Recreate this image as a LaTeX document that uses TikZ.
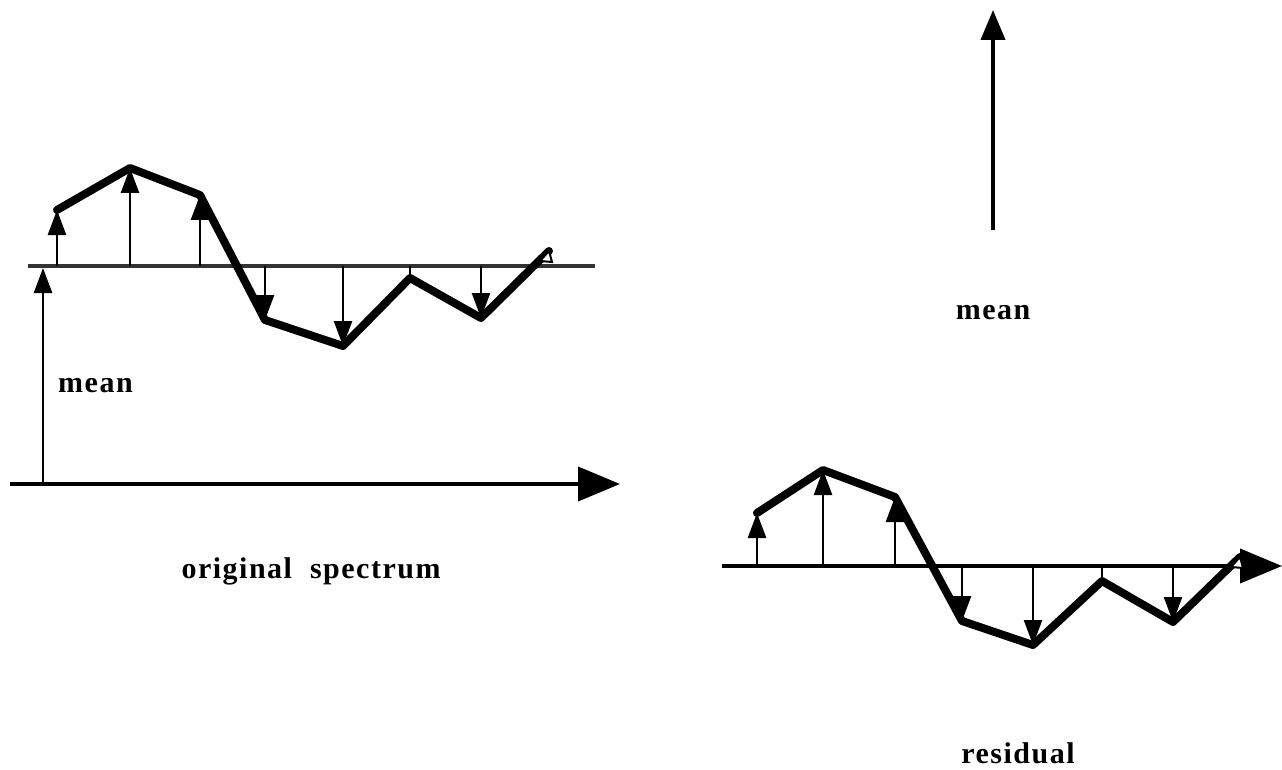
\documentclass[tikz,border=0pt]{standalone}
\usepackage{fontspec}
\setmainfont{Liberation Serif}
\newfontfamily\lblfont[LetterSpace=5]{Liberation Serif}
\usetikzlibrary{arrows.meta}
\begin{document}
\begin{tikzpicture}[x=1pt,y=-1pt,
  curve/.style={line width=8pt, line join=round, line cap=round},
  stem/.style={line width=2.5pt, -{Triangle[width=18pt,length=25pt]}},
  tick/.style={line width=2.5pt},
  axisline/.style={line width=4pt, -{Triangle[width=34pt,length=42pt]}},
  meanline/.style={line width=3.5pt, black!80},
  lbl/.style={font=\fontsize{30}{32}\selectfont\lblfont\bfseries, inner sep=0pt}]
\useasboundingbox (0,0) rectangle (1282,770);

% ---------- left graph ----------
\coordinate (La0) at (10,484);
\coordinate (La1) at (620,484);
\coordinate (Lm0) at (28,266);
\coordinate (Lm1) at (595,266);
\coordinate (Lmb) at (43,484);
\coordinate (Lmt) at (43,268);
\coordinate (L1) at (57,210);
\coordinate (L2) at (130,168);
\coordinate (L3) at (200,195);
\coordinate (L4) at (265,320);
\coordinate (L5) at (343,346);
\coordinate (L6) at (410,278);
\coordinate (L7) at (481,318);
\coordinate (L8) at (549,251);
\foreach \n in {1,...,7}{\coordinate (Lb\n) at (L\n |- Lm0);}

\draw[meanline] (Lm0) -- (Lm1);
\draw[axisline] (La0) -- (La1);
\draw[stem] (Lmb) -- (Lmt);
\foreach \n in {1,2,3,4,5,7}{\draw[stem] (Lb\n) -- (L\n);}
\draw[tick] (Lb6) -- (L6);
\draw[curve] (L1) -- (L2) -- (L3) -- (L4) -- (L5) -- (L6) -- (L7) -- (L8);
\draw[line width=2pt, fill=white] (L8) -- ++(3,11) -- ++(-12,-1) -- cycle;

\node[lbl, anchor=west] (meanL) at (58,386) {mean};
\node[lbl] (orig) at (311,571) {original\ \ spectrum};

% ---------- top mean arrow ----------
\coordinate (T0) at (993,230);
\coordinate (T1) at (993,10);
\draw[line width=4pt, -{Triangle[width=24pt,length=30pt]}] (T0) -- (T1);
\node[lbl] (meanR) at (993,313) {mean};

% ---------- right graph ----------
\coordinate (Ra0) at (722,566);
\coordinate (Ra1) at (1282,566);
\coordinate (R1) at (757,513);
\coordinate (R2) at (823,470);
\coordinate (R3) at (895,497);
\coordinate (R4) at (962,621);
\coordinate (R5) at (1033,645);
\coordinate (R6) at (1102,581);
\coordinate (R7) at (1173,622);
\coordinate (R8) at (1240,557);
\foreach \n in {1,...,7}{\coordinate (Rb\n) at (R\n |- Ra0);}

\draw[axisline] (Ra0) -- (Ra1);
\foreach \n in {1,2,3,4,5,7}{\draw[stem] (Rb\n) -- (R\n);}
\draw[tick] (Rb6) -- (R6);
\draw[curve] (R1) -- (R2) -- (R3) -- (R4) -- (R5) -- (R6) -- (R7) -- (R8);
\draw[line width=2pt, fill=white] (R8) -- ++(3,11) -- ++(-12,-1) -- cycle;

\node[lbl] (resid) at (1018,753) {residual};
\end{tikzpicture}
\end{document}
